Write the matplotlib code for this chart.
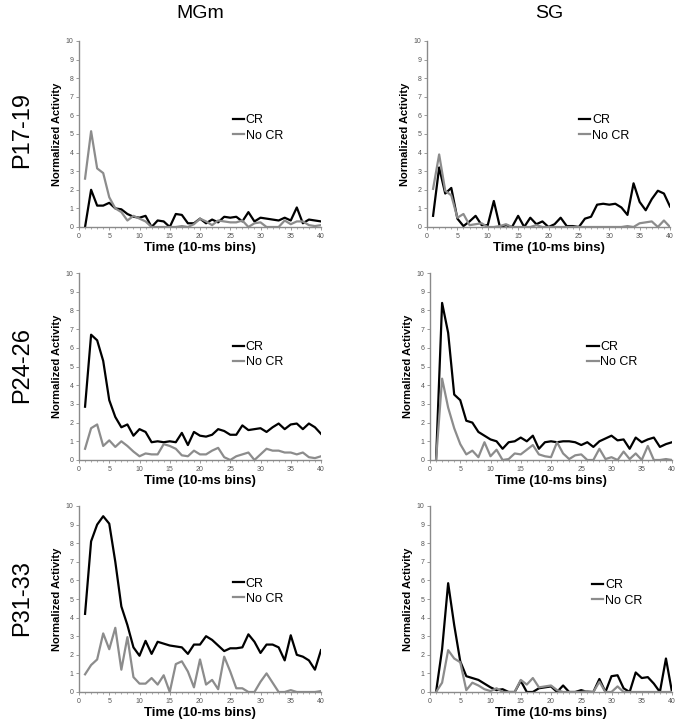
import numpy as np
import matplotlib
matplotlib.use("Agg")
import matplotlib.pyplot as plt
from matplotlib.ticker import MultipleLocator

plt.rcParams['font.family'] = ['Liberation Sans', 'DejaVu Sans']

# time bins 1..40
bins = np.arange(1, 41)

# MGm, P17-19
mgm_p17_cr = [0.0, 2.0, 1.15, 1.15, 1.3, 1.0, 0.95, 0.7, 0.55, 0.5,
              0.6, 0.0, 0.35, 0.3, 0.0, 0.7, 0.65, 0.2, 0.2, 0.45,
              0.2, 0.4, 0.25, 0.55, 0.5, 0.55, 0.3, 0.8, 0.3, 0.5,
              0.45, 0.4, 0.35, 0.5, 0.35, 1.05, 0.2, 0.4, 0.35, 0.3]
mgm_p17_nocr = [2.6, 5.15, 3.15, 2.9, 1.6, 1.0, 0.8, 0.35, 0.6, 0.45,
                0.3, 0.0, 0.0, 0.0, 0.0, 0.0, 0.05, 0.0, 0.15, 0.45,
                0.3, 0.1, 0.35, 0.3, 0.25, 0.25, 0.35, 0.0, 0.2, 0.25,
                0.0, 0.0, 0.0, 0.35, 0.15, 0.3, 0.3, 0.1, 0.05, 0.1]

# SG, P17-19
sg_p17_cr = [0.6, 3.2, 1.8, 2.1, 0.45, 0.05, 0.3, 0.6, 0.1, 0.1,
             1.4, 0.0, 0.1, 0.0, 0.6, 0.0, 0.5, 0.15, 0.3, 0.0,
             0.15, 0.5, 0.05, 0.05, 0.0, 0.45, 0.55, 1.2, 1.25, 1.2,
             1.25, 1.05, 0.65, 2.35, 1.35, 0.9, 1.5, 1.95, 1.8, 1.1]
sg_p17_nocr = [2.05, 3.9, 1.95, 1.7, 0.5, 0.7, 0.1, 0.15, 0.2, 0.0,
               0.0, 0.05, 0.15, 0.0, 0.0, 0.0, 0.0, 0.1, 0.0, 0.0,
               0.0, 0.0, 0.0, 0.0, 0.0, 0.0, 0.0, 0.0, 0.0, 0.0,
               0.0, 0.0, 0.05, 0.0, 0.2, 0.25, 0.3, 0.0, 0.35, 0.0]

# MGm, P24-26
mgm_p24_cr = [2.85, 6.7, 6.4, 5.3, 3.2, 2.3, 1.75, 1.9, 1.3, 1.65,
              1.5, 0.95, 1.0, 0.95, 1.0, 0.95, 1.45, 0.8, 1.5, 1.3,
              1.25, 1.35, 1.65, 1.55, 1.35, 1.35, 1.85, 1.6, 1.65, 1.7,
              1.5, 1.75, 1.95, 1.65, 1.9, 1.95, 1.65, 1.95, 1.75, 1.4]
mgm_p24_nocr = [0.6, 1.7, 1.9, 0.75, 1.05, 0.7, 1.0, 0.75, 0.45, 0.2,
                0.35, 0.3, 0.3, 0.85, 0.75, 0.6, 0.25, 0.2, 0.5, 0.3,
                0.3, 0.5, 0.65, 0.15, 0.0, 0.2, 0.3, 0.4, 0.0, 0.3,
                0.6, 0.5, 0.5, 0.4, 0.4, 0.3, 0.4, 0.15, 0.1, 0.2]

# SG, P24-26
sg_p24_cr = [0.0, 8.4, 6.8, 3.5, 3.2, 2.1, 2.0, 1.5, 1.3, 1.1,
             1.0, 0.6, 0.95, 1.0, 1.2, 1.0, 1.3, 0.6, 0.95, 1.0,
             0.95, 1.0, 1.0, 0.95, 0.8, 0.95, 0.7, 1.0, 1.15, 1.3,
             1.05, 1.1, 0.6, 1.2, 0.95, 1.1, 1.2, 0.7, 0.85, 0.95]
sg_p24_nocr = [0.0, 4.35, 2.8, 1.7, 0.85, 0.3, 0.5, 0.15, 0.95, 0.2,
               0.55, 0.0, 0.05, 0.35, 0.3, 0.55, 0.8, 0.3, 0.2, 0.15,
               0.95, 0.35, 0.05, 0.25, 0.3, 0.0, 0.0, 0.6, 0.05, 0.15,
               0.0, 0.45, 0.05, 0.35, 0.0, 0.75, 0.0, 0.0, 0.05, 0.0]

# MGm, P31-33
mgm_p31_cr = [4.2, 8.1, 9.0, 9.45, 9.05, 7.0, 4.6, 3.6, 2.4, 1.95,
              2.75, 2.05, 2.7, 2.6, 2.5, 2.45, 2.4, 2.05, 2.55, 2.55,
              3.0, 2.8, 2.5, 2.2, 2.35, 2.35, 2.4, 3.1, 2.7, 2.1,
              2.55, 2.55, 2.4, 1.7, 3.05, 2.0, 1.9, 1.7, 1.2, 2.25]
mgm_p31_nocr = [0.95, 1.45, 1.75, 3.15, 2.3, 3.45, 1.2, 2.95, 0.8, 0.45,
                0.45, 0.75, 0.4, 0.9, 0.0, 1.5, 1.65, 1.1, 0.25, 1.75,
                0.4, 0.65, 0.15, 1.9, 1.1, 0.2, 0.2, 0.0, 0.0, 0.55,
                1.0, 0.5, 0.0, 0.0, 0.1, 0.0, 0.0, 0.0, 0.0, 0.05]

# SG, P31-33
sg_p31_cr = [0.0, 2.3, 5.85, 3.6, 1.65, 0.85, 0.75, 0.65, 0.45, 0.25,
             0.1, 0.15, 0.0, 0.0, 0.6, 0.0, 0.0, 0.2, 0.25, 0.3,
             0.0, 0.35, 0.0, 0.0, 0.1, 0.0, 0.0, 0.7, 0.0, 0.85,
             0.9, 0.2, 0.0, 1.05, 0.75, 0.8, 0.45, 0.0, 1.8, 0.0]
sg_p31_nocr = [0.0, 0.5, 2.25, 1.8, 1.6, 0.1, 0.5, 0.35, 0.15, 0.05,
               0.2, 0.0, 0.0, 0.0, 0.65, 0.4, 0.75, 0.25, 0.3, 0.35,
               0.1, 0.0, 0.0, 0.0, 0.0, 0.05, 0.0, 0.55, 0.0, 0.0,
               0.3, 0.0, 0.0, 0.0, 0.0, 0.0, 0.0, 0.0, 0.0, 0.0]

col_titles = ['MGm', 'SG']
row_titles = ['P17-19', 'P24-26', 'P31-33']

panels = [
    [(mgm_p17_cr, mgm_p17_nocr), (sg_p17_cr, sg_p17_nocr)],
    [(mgm_p24_cr, mgm_p24_nocr), (sg_p24_cr, sg_p24_nocr)],
    [(mgm_p31_cr, mgm_p31_nocr), (sg_p31_cr, sg_p31_nocr)],
]

W, H = 682, 727
fig = plt.figure(figsize=(W / 100, H / 100), dpi=100)

# axes boxes in pixels: (left, top, right, bottom)
boxes = [
    [(79, 41, 321, 227), (427, 41, 670, 227)],
    [(79, 273, 321, 460), (430, 273, 672, 460)],
    [(79, 506, 321, 692), (430, 506, 672, 692)],
]
# legend top-left anchors (axes fraction)
leg_pos = [
    [(0.635, 0.605), (0.625, 0.605)],
    [(0.635, 0.635), (0.65, 0.635)],
    [(0.635, 0.615), (0.67, 0.605)],
]

spine_col = '#8a8a8a'
for r in range(3):
    for c in range(2):
        l, t, rr, b = boxes[r][c]
        ax = fig.add_axes([l / W, 1 - b / H, (rr - l) / W, (b - t) / H])
        cr, nocr = panels[r][c]
        ax.plot(bins, cr, color='black', lw=1.6, label='CR')
        ax.plot(bins, nocr, color='#8c8c8c', lw=1.6, label='No CR')
        ax.set_xlim(0, 40)
        ax.set_ylim(0, 10)
        ax.xaxis.set_major_locator(MultipleLocator(5))
        ax.xaxis.set_minor_locator(MultipleLocator(1))
        ax.yaxis.set_major_locator(MultipleLocator(1))
        for s in ['top', 'right']:
            ax.spines[s].set_visible(False)
        for s in ['left', 'bottom']:
            ax.spines[s].set_color(spine_col)
            ax.spines[s].set_linewidth(1.0)
        ax.tick_params(which='major', length=2.5, width=0.6, color=spine_col,
                       labelsize=5, labelcolor='#555555', pad=1.5)
        ax.tick_params(which='minor', length=1.5, width=0.5, color=spine_col)
        ax.set_ylabel('Normalized Activity', fontsize=8, fontweight='bold', labelpad=3)
        ax.set_xlabel('Time (10-ms bins)', fontsize=9.5, fontweight='bold', labelpad=2)
        ax.legend(loc='upper left', bbox_to_anchor=leg_pos[r][c], frameon=False,
                  fontsize=9, handlelength=0.9, handletextpad=0.15,
                  labelspacing=0.25, borderpad=0, borderaxespad=0)

# column titles
fig.text(200 / W, 1 - 14 / H, col_titles[0], fontsize=14, ha='center', va='center')
fig.text(549 / W, 1 - 14 / H, col_titles[1], fontsize=14, ha='center', va='center')

# row titles
for y, name in zip([130, 365, 598], row_titles):
    fig.text(22 / W, 1 - y / H, name, fontsize=17, rotation=90, ha='center', va='center')

fig.savefig('out.png', dpi=100)
